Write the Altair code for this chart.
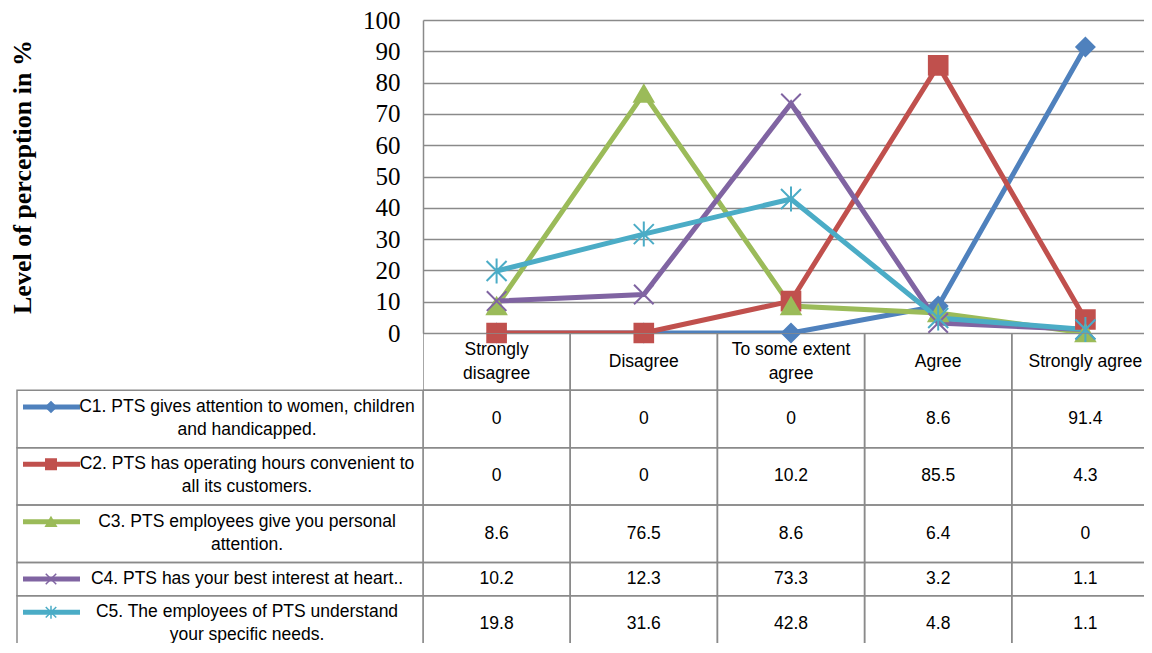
import altair as alt
import pandas as pd

# ---------------- data ----------------
categories = ["Strongly disagree", "Disagree", "To some extent agree", "Agree", "Strongly agree"]
category_lines = [["Strongly", "disagree"], ["Disagree"], ["To some extent", "agree"], ["Agree"], ["Strongly agree"]]

series_ids = ["C1", "C2", "C3", "C4", "C5"]
series_lines = [
    ["C1. PTS gives attention to women, children", "and handicapped."],
    ["C2. PTS has operating hours convenient to", "all its customers."],
    ["C3. PTS employees give you personal", "attention."],
    ["C4. PTS has your best interest at heart.."],
    ["C5. The employees of PTS understand", "your specific needs."],
]
c1_values = [0, 0, 0, 8.6, 91.4]
c2_values = [0, 0, 10.2, 85.5, 4.3]
c3_values = [8.6, 76.5, 8.6, 6.4, 0]
c4_values = [10.2, 12.3, 73.3, 3.2, 1.1]
c5_values = [19.8, 31.6, 42.8, 4.8, 1.1]
y_ticks = [0, 10, 20, 30, 40, 50, 60, 70, 80, 90, 100]

# ---------------- style ----------------
colors = ["#4F81BD", "#C0504D", "#9BBB59", "#8064A2", "#4BACC6"]
shapes = ["diamond", "square", "triangle-up",
          "M-1,-1L1,1M-1,1L1,-1",
          "M-1,-1L1,1M-1,1L1,-1M0,-1.25L0,1.25"]
marker_sizes = [330, 400, 400, 380, 380]
legend_sizes = [110, 110, 120, 120, 120]
GRID = "#8a8a8a"
SANS = "Liberation Sans, Arial, sans-serif"
SERIF = "Liberation Serif, Times New Roman, serif"
LH = 24  # line height units for text rows

PLOT_W, PLOT_H = 721, 313
BAND_RANGE = 736          # five columns; the last one runs past the right edge
LEG_W, TABLE_H = 406, 320

all_values = [c1_values, c2_values, c3_values, c4_values, c5_values]

# long data for the line chart
rows = []
for sid, vals in zip(series_ids, all_values):
    for i, (cat, v) in enumerate(zip(categories, vals)):
        rows.append({"series": sid, "cat": cat, "idx": i, "value": v})
line_df = pd.DataFrame(rows)

# table row layout from text line counts
row_names = ["header"] + series_ids
row_nlines = [max(len(l) for l in category_lines)] + [len(l) for l in series_lines]
row_h = [LH * n + 9 for n in row_nlines]
tops = [sum(row_h[:k]) for k in range(len(row_h))]
total_units = sum(row_h)
row_geom = {name: (t, t + h) for name, t, h in zip(row_names, tops, row_h)}

table_rows = []
for ci, cat in enumerate(categories):
    t, b = row_geom["header"]
    n = len(category_lines[ci])
    table_rows.append({"cat": cat, "y0": t, "y1": b,
                       "yt": (t + b) / 2 - (n - 1) * LH / 2,
                       "label": "\n".join(category_lines[ci])})
for sid, vals in zip(series_ids, all_values):
    t, b = row_geom[sid]
    for cat, v in zip(categories, vals):
        table_rows.append({"cat": cat, "y0": t, "y1": b, "yt": (t + b) / 2, "label": f"{v:g}"})
table_df = pd.DataFrame(table_rows)

legend_rows = []
for sid, lines in zip(series_ids, series_lines):
    t, b = row_geom[sid]
    n = len(lines)
    yt = (t + b) / 2 - (n - 1) * LH / 2
    legend_rows.append({"series": sid, "y0": t, "y1": b, "yt": yt,
                        "label": "\n".join(lines)})
legend_df = pd.DataFrame(legend_rows)

# ---------------- scales ----------------
xscale = alt.Scale(domain=categories, paddingInner=0, paddingOuter=0, range=[0, BAND_RANGE])
cscale = alt.Scale(domain=series_ids, range=colors)
shscale = alt.Scale(domain=series_ids, range=shapes)
tscale = alt.Scale(domain=[0, total_units], reverse=True, nice=False, zero=False)

X = alt.X("cat:N", sort=categories, scale=xscale, axis=None)

# ---------------- line chart ----------------
yaxis = alt.Axis(values=y_ticks, tickCount=len(y_ticks), grid=True, gridColor=GRID, gridWidth=1.5,
                 domainColor=GRID, domainWidth=1.5, ticks=False, tickSize=0,
                 labelOverlap=False, labelBaseline="middle",
                 labelFont=SERIF, labelFontSize=25, labelColor="black",
                 labelPadding=23,
                 title="Level of perception in %", titleFont=SERIF,
                 titleFontSize=26, titleFontWeight="bold", titleColor="black",
                 titleX=-401, titleBaseline="middle", titleAngle=270)
Y = alt.Y("value:Q", scale=alt.Scale(domain=[0, 100], nice=False), axis=yaxis)

lines = alt.Chart(line_df).mark_line(strokeWidth=5, clip=True).encode(
    x=X, y=Y,
    color=alt.Color("series:N", scale=cscale, legend=None),
    order=alt.Order("idx:Q"),
)
points = alt.Chart(line_df).mark_point(filled=True, strokeWidth=2, opacity=1).encode(
    x=X, y=Y,
    color=alt.Color("series:N", scale=cscale, legend=None),
    stroke=alt.Stroke("series:N", scale=cscale, legend=None),
    shape=alt.Shape("series:N", scale=shscale, legend=None),
    size=alt.Size("series:N", scale=alt.Scale(domain=series_ids, range=marker_sizes), legend=None),
)
line_chart = alt.layer(lines, points).properties(width=PLOT_W, height=PLOT_H)

# ---------------- spacer ----------------
spacer = alt.Chart(pd.DataFrame({"a": [0]})).mark_point(opacity=0, size=1).encode(
    x=alt.value(1), y=alt.value(1)).properties(width=LEG_W, height=PLOT_H)

# ---------------- table ----------------
tbase = alt.Chart(table_df)
cells = tbase.mark_rect(fill="white", fillOpacity=0, stroke=GRID, strokeWidth=1.5,
                        clip=True).encode(
    x=X, y=alt.Y("y0:Q", scale=tscale, axis=None), y2="y1:Q")
ttext = tbase.mark_text(font=SANS, fontSize=17.5, lineBreak="\n", lineHeight=24,
                        baseline="middle", align="center", color="black", clip=True).encode(
    x=X, y=alt.Y("yt:Q", scale=tscale, axis=None), text="label:N")
table_chart = alt.layer(cells, ttext).properties(width=PLOT_W, height=TABLE_H)

# ---------------- legend column ----------------
lbase = alt.Chart(legend_df)
lcells = lbase.mark_rect(fill="white", fillOpacity=0, stroke=GRID, strokeWidth=1.5).encode(
    x=alt.value(0), x2=alt.value("width"),
    y=alt.Y("y0:Q", scale=tscale, axis=None), y2="y1:Q")
lsym = lbase.mark_rule(strokeWidth=5).encode(
    x=alt.value(6), x2=alt.value(63),
    y=alt.Y("yt:Q", scale=tscale, axis=None),
    color=alt.Color("series:N", scale=cscale, legend=None))
lpt = lbase.mark_point(filled=True, strokeWidth=1.5, opacity=1).encode(
    x=alt.value(34),
    y=alt.Y("yt:Q", scale=tscale, axis=None),
    color=alt.Color("series:N", scale=cscale, legend=None),
    stroke=alt.Stroke("series:N", scale=cscale, legend=None),
    shape=alt.Shape("series:N", scale=shscale, legend=None),
    size=alt.Size("series:N", scale=alt.Scale(domain=series_ids, range=legend_sizes), legend=None))
ltext = lbase.mark_text(font=SANS, fontSize=17.5, lineBreak="\n", lineHeight=23,
                        baseline="middle", align="center", color="black").encode(
    x=alt.value(230), y=alt.Y("yt:Q", scale=tscale, axis=None), text="label:N")
legend_chart = alt.layer(lcells, lsym, lpt, ltext).properties(width=LEG_W, height=TABLE_H)

chart = alt.concat(spacer, line_chart, legend_chart, table_chart,
                   columns=2, spacing=0, bounds="flush").properties(
    padding={"left": 1, "top": 0, "right": 0, "bottom": -11},
).configure_view(strokeWidth=0).resolve_scale(color="shared", shape="shared", size="independent")

chart.save("out.html", embed_options={"renderer": "svg", "actions": False})
